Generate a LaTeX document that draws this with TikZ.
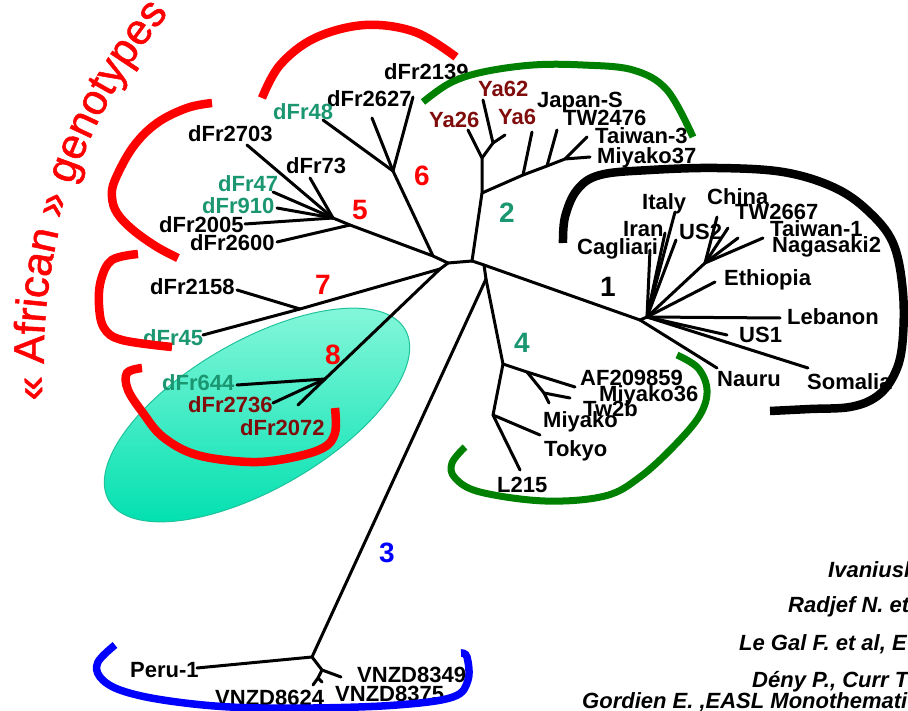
\documentclass[tikz,border=0pt]{standalone}
\usepackage{fontspec}
\setmainfont{Liberation Sans}
\usetikzlibrary{shapes.geometric,decorations.text}
\definecolor{tealA}{RGB}{26,150,112}
\definecolor{maroonA}{RGB}{128,12,12}
\definecolor{grnA}{RGB}{0,128,0}
\definecolor{ellA}{RGB}{140,248,220}
\definecolor{ellB}{RGB}{0,224,176}
\definecolor{ellD}{RGB}{30,195,155}
\newfontfamily\afrfont{Liberation Sans}[FakeBold=1.2]
\newcommand\lblfont{\fontsize{22}{25}\selectfont\bfseries}
\newcommand\numfont{\fontsize{28}{30}\selectfont\bfseries}
\newcommand\reffont{\fontsize{22}{25}\selectfont\bfseries\itshape}
\begin{document}
\begin{tikzpicture}[x=1pt,y=-1pt,
  br/.style={line width=3pt,line cap=round,line join=round},
  lbl/.style={font=\lblfont,anchor=base west,inner sep=0pt},
  num/.style={font=\numfont,anchor=center,inner sep=0pt},
  reftxt/.style={font=\reffont,anchor=base west,inner sep=0pt},
  bracket/.style={line width=8.5pt,line cap=butt}]
\useasboundingbox (0,0) rectangle (908,711);
\clip (0,0) rectangle (908,711);

% highlighted ellipse
\node[ellipse,minimum width=342pt,minimum height=148pt,rotate=30,
  draw=ellD,line width=1pt,left color=ellA,right color=ellB,shading angle=0] (ell) at (257,415) {};

% curved title
\path[decorate,decoration={text along path,text color=red,
  text={|\afrfont\fontsize{43}{46}\selectfont|« African » genotypes}}]
  (577,356) ++(175.3:533) arc[start angle=175.3,end angle=232,radius=533];

% labels
\node[lbl] (L2139) at (384,80) {dFr2139};
\node[lbl] (L2627) at (327,107) {dFr2627};
\node[lbl,text=tealA] (L48) at (273,120) {dFr48};
\node[lbl] (L2703) at (188,142) {dFr2703};
\node[lbl] (L73) at (286,174) {dFr73};
\node[lbl,text=tealA] (L47) at (218,192) {dFr47};
\node[lbl,text=tealA] (L910) at (202,214) {dFr910};
\node[lbl] (L2005) at (159,233) {dFr2005};
\node[lbl] (L2600) at (190,251) {dFr2600};
\node[lbl] (L2158) at (150,295) {dFr2158};
\node[lbl,text=tealA] (L45) at (143,345) {dFr45};
\node[lbl,text=tealA] (L644) at (162,390) {dFr644};
\node[lbl,text=maroonA] (L2736) at (188,413) {dFr2736};
\node[lbl,text=maroonA] (L2072) at (240,435) {dFr2072};
\node[lbl,text=maroonA] (LYa62) at (478,97) {Ya62};
\node[lbl,text=maroonA] (LYa26) at (429,128) {Ya26};
\node[lbl,text=maroonA] (LYa6) at (498,125) {Ya6};
\node[lbl] (LJap) at (537,108) {Japan-S};
\node[lbl] (LTW2476) at (563,126) {TW2476};
\node[lbl] (LTai3) at (595,144) {Taiwan-3};
\node[lbl] (LMiy37) at (597,164) {Miyako37};
\node[lbl] (LItaly) at (642,210) {Italy};
\node[lbl] (LChina) at (707,205) {China};
\node[lbl] (LTW2667) at (735,220) {TW2667};
\node[lbl] (LIran) at (623,237) {Iran};
\node[lbl] (LUS2) at (679,240) {US2};
\node[lbl] (LTai1) at (770,237) {Taiwan-1};
\node[lbl] (LCag) at (577,255) {Cagliari};
\node[lbl] (LNag) at (772,253) {Nagasaki2};
\node[lbl] (LEth) at (724,286) {Ethiopia};
\node[lbl] (LLeb) at (787,325) {Lebanon};
\node[lbl] (LUS1) at (739,343) {US1};
\node[lbl] (LNauru) at (717,387) {Nauru};
\node[lbl] (LSom) at (807,389) {Somalia};
\node[lbl] (LAF) at (580,385) {AF209859};
\node[lbl] (LMiy36) at (599,402) {Miyako36};
\node[lbl] (LTw2b) at (583,416) {Tw2b};
\node[lbl] (LMiy) at (543,428) {Miyako};
\node[lbl] (LTokyo) at (544,456) {Tokyo};
\node[lbl] (LL215) at (497,492) {L215};
\node[lbl] (LPeru) at (130,677) {Peru-1};
\node[lbl] (LV8349) at (357,682) {VNZD8349};
\node[lbl] (LV8375) at (335,701) {VNZD8375};
\node[lbl] (LV8624) at (215,705) {VNZD8624};

% tree: internal nodes
\coordinate (r1) at (448,263);
\coordinate (r2) at (472,261);
\coordinate (c5j) at (433,256);
\coordinate (n5) at (333,218);
\coordinate (n5b) at (350,225);
\coordinate (n6) at (393,171);
\coordinate (n78) at (440,269);
\coordinate (n7) at (300,309);
\coordinate (n8) at (325,379);
\coordinate (n2) at (482,193);
\coordinate (n2a) at (482,158);
\coordinate (n2b) at (493,143);
\coordinate (n2c) at (523,175);
\coordinate (n2d) at (547,166);
\coordinate (n2e) at (565,159);
\coordinate (n1c) at (484,265);
\coordinate (n34) at (486,279);
\coordinate (n1) at (640,320);
\coordinate (n1f) at (647,317);
\coordinate (n1a) at (705,263);
\coordinate (n4) at (503,364);
\coordinate (n4a) at (527,372);
\coordinate (n4b) at (544,393);
\coordinate (n4c) at (493,415);
\coordinate (n3) at (312,657);
\coordinate (n3a) at (322,670);
\coordinate (n3b) at (318,678);
% tips
\coordinate (t2703) at (247,145);
\coordinate (t73) at (310,178);
\coordinate (t47) at (273,192);
\coordinate (t910) at (277,208);
\coordinate (t2005) at (245,224);
\coordinate (t2600) at (277,242);
\coordinate (t48) at (323,120);
\coordinate (t2627) at (372,118);
\coordinate (t2139) at (413,97);
\coordinate (t2158) at (237,290);
\coordinate (t45) at (203,335);
\coordinate (t644) at (237,385);
\coordinate (t2736) at (273,403);
\coordinate (t2072) at (298,405);
\coordinate (tYa26) at (468,130);
\coordinate (tYa62) at (483,100);
\coordinate (tYa6) at (505,135);
\coordinate (tJap) at (532,132);
\coordinate (tTW2476) at (557,130);
\coordinate (tTai3) at (587,137);
\coordinate (tMiy37) at (590,157);
\coordinate (tNauru) at (717,368);
\coordinate (tSom) at (808,368);
\coordinate (tUS1) at (727,335);
\coordinate (tLeb) at (780,318);
\coordinate (tEth) at (715,282);
\coordinate (tChina) at (717,217);
\coordinate (tTW2667) at (728,228);
\coordinate (tTai1) at (738,238);
\coordinate (tNag) at (763,238);
\coordinate (tCag) at (650,250);
\coordinate (tIran) at (665,233);
\coordinate (tItaly) at (675,212);
\coordinate (tUS2) at (676,240);
\coordinate (tAF) at (575,387);
\coordinate (tMiy36) at (570,398);
\coordinate (tTw2b) at (549,403);
\coordinate (tTokyo) at (540,435);
\coordinate (tL215) at (520,470);
\coordinate (tPeru) at (197,668);
\coordinate (tV8349) at (341,677);
\coordinate (tV8624) at (313,685);
\coordinate (tV8375) at (322,682);

% branches
\draw[br] (r1) -- (r2);
\draw[br] (n5) -- (n5b) -- (c5j) -- (r1);
\draw[br] (c5j) -- (n6);
\draw[br] (n6) -- (t48);
\draw[br] (n6) -- (t2627);
\draw[br] (n6) -- (t2139);
\draw[br] (n5) -- (t2703);
\draw[br] (n5) -- (t73);
\draw[br] (n5) -- (t47);
\draw[br] (n5) -- (t910);
\draw[br] (n5) -- (t2005);
\draw[br] (n5b) -- (t2600);
\draw[br] (r1) -- (n78);
\draw[br] (n78) -- (n7) -- (t45);
\draw[br] (n7) -- (t2158);
\draw[br] (n78) -- (n8) -- (t2072);
\draw[br] (n8) -- (t644);
\draw[br] (n8) -- (t2736);
\draw[br] (r2) -- (n2) -- (n2a) -- (tYa26);
\draw[br] (n2a) -- (n2b) -- (tYa62);
\draw[br] (n2b) -- (tYa6);
\draw[br] (n2) -- (n2c) -- (n2d) -- (n2e) -- (tMiy37);
\draw[br] (n2c) -- (tJap);
\draw[br] (n2d) -- (tTW2476);
\draw[br] (n2e) -- (tTai3);
\draw[br] (r2) -- (n1c) -- (n1);
\draw[br] (n1c) -- (n34);
\draw[br] (n34) -- (n3);
\draw[br] (n34) -- (n4);
\draw[br] (n1) -- (n1f);
\draw[br] (n1) -- (tNauru);
\foreach \t in {tCag,tIran,tItaly,tUS2,n1a,tEth,tLeb,tUS1,tSom} \draw[br] (n1f) -- (\t);
\foreach \t in {tChina,tTW2667,tTai1,tNag} \draw[br] (n1a) -- (\t);
\draw[br] (n4) -- (n4a) -- (tAF);
\draw[br] (n4a) -- (n4b) -- (tMiy36);
\draw[br] (n4b) -- (tTw2b);
\draw[br] (n4) -- (n4c) -- (tTokyo);
\draw[br] (n4c) -- (tL215);
\draw[br] (n3) -- (tPeru);
\draw[br] (n3) -- (n3a) -- (tV8349);
\draw[br] (n3a) -- (n3b) -- (tV8624);
\draw[br] (n3b) -- (tV8375);

% clade brackets
\draw[bracket,red] plot[smooth,tension=0.6] coordinates {(262,98) (280,65) (315,38) (365,25) (415,32) (456,57)};
\draw[bracket,red] plot[smooth,tension=0.6] coordinates {(212,103) (187,108) (157,123) (133,147) (115,180) (112,197) (117,213) (133,230) (157,247) (178,258)};
\draw[bracket,red] plot[smooth,tension=0.6] coordinates {(138,254) (112,260) (101,280) (99,305) (104,328) (122,340) (172,347)};
\draw[bracket,red] plot[smooth,tension=0.6] coordinates {(142,368) (127,373) (128,390) (143,413) (163,437) (197,455) (250,462) (290,458) (323,448) (335,433) (335,408)};
\draw[bracket,grnA,line width=7pt] plot[smooth,tension=0.6] coordinates {(423,102) (450,83) (483,72) (533,65) (583,65) (633,70) (667,90) (693,137)};
\draw[bracket,black] plot[smooth,tension=0.6] coordinates {(563,243) (565,217) (577,190) (600,175) (650,170) (717,168) (783,172) (833,187) (867,210) (893,243) (903,293) (902,347) (893,377) (876,397) (850,407) (810,409) (770,411)};
\draw[bracket,grnA,line width=7pt] plot[smooth,tension=0.6] coordinates {(677,355) (698,368) (707,390) (700,415) (675,445) (640,477) (605,496) (545,501) (480,492) (455,478) (452,463) (465,447)};
\draw[bracket,blue,line width=7.5pt] plot[smooth,tension=0.6] coordinates {(115,645) (98,662) (100,677) (120,690) (163,700) (230,707) (313,708) (397,705) (453,697) (468,680) (467,657) (461,653)};

% clade numbers
\node[num,text=red] (N5) at (360,210) {5};
\node[num,text=red] (N6) at (422,176) {6};
\node[num,text=red] (N7) at (323,285) {7};
\node[num,text=red] (N8) at (333,355) {8};
\node[num,text=tealA] (N2) at (507,213) {2};
\node[num,text=tealA] (N4) at (522,343) {4};
\node[num,text=black] (N1) at (608,287) {1};
\node[num,text=blue] (N3) at (387,553) {3};

% references (cut by the frame)
\node[reftxt] (R1) at (828,577) {Ivaniush};
\node[reftxt] (R2) at (788,612) {Radjef N. et};
\node[reftxt] (R3) at (739,650) {Le Gal F. et al, E};
\node[reftxt] (R4) at (752,687) {Dény P., Curr T};
\node[reftxt] (R5) at (582,708) {Gordien E. ,EASL  Monothemati};
\end{tikzpicture}
\end{document}
